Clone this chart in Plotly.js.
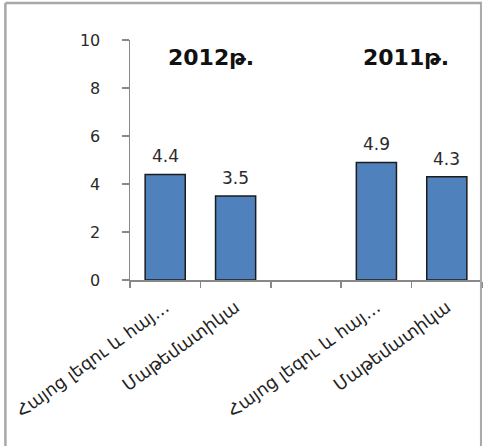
<!DOCTYPE html>
<html>
<head>
<meta charset="utf-8">
<script src="https://cdn.plot.ly/plotly-3.0.1.min.js"></script>
<style>
html,body{margin:0;padding:0;background:#fff;}
#chart{width:485px;height:446px;}
</style>
</head>
<body>
<div id="chart"></div>
<script>
// Data
var categoryIds = ["arm2012", "math2012", "gap", "arm2011", "math2011"];
var categoryLabels = ["Հայոց լեզու և հայ…", "Մաթեմատիկա", "", "Հայոց լեզու և հայ…", "Մաթեմատիկա"];
var barCategories = ["arm2012", "math2012", "arm2011", "math2011"];
var barValues = [4.4, 3.5, 4.9, 4.3];
var yearLabels = ["2012թ.", "2011թ."];
var yTicks = [0, 2, 4, 6, 8, 10];

var numFont = {family: "DejaVu Sans, Verdana, sans-serif", size: 16, color: "#2a2a2a"};

var trace = {
  type: "bar",
  x: barCategories,
  y: barValues,
  width: 0.57,
  marker: {color: "#4F81BD", line: {color: "#1c1c1c", width: 1.5}},
  hoverinfo: "none"
};

var annotations = barCategories.map(function (c, i) {
  return {
    x: c, y: barValues[i], xref: "x", yref: "y",
    text: barValues[i].toFixed(1), showarrow: false,
    yanchor: "bottom", yshift: 6,
    font: {family: "DejaVu Sans, Verdana, sans-serif", size: 17, color: "#2a2a2a"}
  };
});
var yearX = [0.229, 0.785];
yearLabels.forEach(function (t, i) {
  annotations.push({
    x: yearX[i], y: 0.929, xref: "paper", yref: "paper",
    text: t, showarrow: false, xanchor: "center", yanchor: "middle",
    font: {family: "DejaVu Sans, Verdana, sans-serif", size: 22, color: "#111", weight: "bold"}
  });
});

var layout = {
  width: 485, height: 446,
  margin: {l: 130, r: 3, t: 40, b: 166, pad: 0},
  paper_bgcolor: "#fff", plot_bgcolor: "#fff",
  showlegend: false,
  xaxis: {
    type: "category",
    categoryorder: "array", categoryarray: categoryIds,
    range: [-0.5, 4.5],
    tickmode: "array", tickvals: categoryIds, ticktext: categoryLabels,
    tickson: "boundaries",
    ticks: "outside", ticklen: 6, tickcolor: "#888", tickwidth: 1.5,
    showline: true, linecolor: "#888", linewidth: 1.5,
    showgrid: false, zeroline: false,
    tickangle: -36,
    tickfont: {family: "DejaVu Sans", size: 17.5, color: "#222"},
    ticklabelstandoff: 9
  },
  yaxis: {
    range: [0, 10], tickvals: yTicks, ticktext: yTicks.map(String),
    ticks: "outside", ticklen: 7, tickcolor: "#888", tickwidth: 1.5,
    showline: true, linecolor: "#888", linewidth: 1.5,
    showgrid: false, zeroline: false,
    tickfont: numFont, ticklabelstandoff: 18
  },
  annotations: annotations,
  shapes: [
    {type: "line", xref: "paper", yref: "paper", x0: -0.354, x1: -0.354, y0: 1.154, y1: -0.72, line: {color: "#a8a8a8", width: 2.5}},
    {type: "line", xref: "paper", yref: "paper", x0: -0.354, x1: 1.0, y0: 1.154, y1: 1.154, line: {color: "#a8a8a8", width: 2.5}},
    {type: "line", xref: "paper", yref: "paper", x0: 0.997, x1: 0.997, y0: 1.154, y1: -0.72, line: {color: "#a8a8a8", width: 2}}
  ]
};

Plotly.newPlot("chart", [trace], layout, {staticPlot: true, displayModeBar: false});
</script>
</body>
</html>
